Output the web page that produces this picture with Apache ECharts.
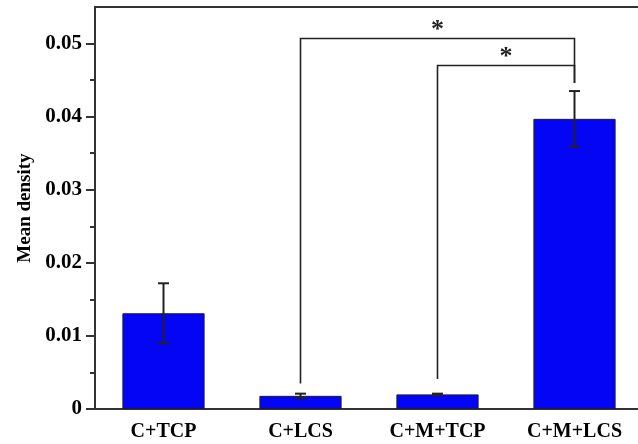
<!DOCTYPE html>
<html>
<head>
<meta charset="utf-8">
<script src="https://cdn.jsdelivr.net/npm/echarts@6/dist/echarts.min.js"></script>
<style>
  html, body { margin: 0; padding: 0; background: #fff; }
  #chart { width: 638px; height: 444px; }
</style>
</head>
<body>
<div id="chart"></div>
<script>
// Groups and their mean density with standard error
const categories = ['C+TCP', 'C+LCS', 'C+M+TCP', 'C+M+LCS'];
const means = [0.0131, 0.0018, 0.0020, 0.0397];
const errors = [0.0041, 0.0003, 0.0001, 0.0038];

// Axis ticks
const majorTicks = [0, 0.01, 0.02, 0.03, 0.04, 0.05];
const minorTicks = [0.005, 0.015, 0.025, 0.035, 0.045];

// Significance brackets: from group, to group, bar height, left leg bottom, right leg bottom, mark
const bracketFrom = [1, 2];
const bracketTo = [3, 3];
const bracketLevel = [0.0507, 0.0470];
const bracketLeftEnd = [0.0035, 0.0041];
const bracketRightEnd = [0.0446, 0.0446];
const bracketMark = ['*', '*'];

const FONT = "'Liberation Serif', 'Times New Roman', serif";
const INK = '#222';

const chart = echarts.init(document.getElementById('chart'), null, { renderer: 'canvas' });

const errorData = categories.map((c, i) => [i, means[i] - errors[i], means[i] + errors[i]]);
const bracketData = bracketFrom.map((f, i) => [f, bracketTo[i], bracketLevel[i], bracketLeftEnd[i], bracketRightEnd[i], i]);

chart.setOption({
  animation: false,
  grid: {
    left: 95, top: 7, width: 548, height: 402,
    outerBoundsMode: 'none',
    containLabel: false,
    show: true, borderColor: '#333', borderWidth: 2, backgroundColor: 'transparent'
  },
  xAxis: {
    type: 'category',
    data: categories,
    axisLine: { lineStyle: { color: '#333', width: 2 } },
    axisTick: { show: false },
    axisLabel: { color: '#000', fontFamily: FONT, fontWeight: 'bold', fontSize: 20, margin: 13 }
  },
  yAxis: [{
    type: 'value',
    min: 0, max: 0.055,
    name: 'Mean density',
    nameLocation: 'middle',
    nameGap: 58,
    nameTextStyle: { color: '#000', fontFamily: FONT, fontWeight: 'bold', fontSize: 19 },
    axisLine: { show: true, lineStyle: { color: '#333', width: 2 } },
    axisTick: { show: true, inside: false, length: 9, customValues: majorTicks, lineStyle: { color: '#333', width: 2 } },
    axisLabel: {
      customValues: majorTicks,
      color: '#000', fontFamily: FONT, fontWeight: 'bold', fontSize: 21, margin: 13,
      formatter: v => (v === 0 ? '0' : String(+v.toFixed(3)))
    },
    splitLine: { show: false }
  }, {
    type: 'value',
    position: 'left',
    min: 0, max: 0.055,
    axisLine: { show: false },
    axisTick: { show: true, inside: false, length: 5, customValues: minorTicks, lineStyle: { color: '#333', width: 2 } },
    axisLabel: { show: false },
    splitLine: { show: false }
  }],
  series: [{
    type: 'bar',
    data: means,
    barWidth: '60%',
    itemStyle: { color: '#0505f5', borderColor: '#1a1a40', borderWidth: 1 }
  }, {
    type: 'custom',
    data: errorData,
    z: 5,
    renderItem: function (params, api) {
      const i = api.value(0);
      const lo = api.coord([i, api.value(1)]);
      const hi = api.coord([i, api.value(2)]);
      const cap = 5.5;
      const style = { stroke: INK, lineWidth: 2 };
      return {
        type: 'group',
        children: [
          { type: 'line', shape: { x1: hi[0], y1: hi[1], x2: lo[0], y2: lo[1] }, style },
          { type: 'line', shape: { x1: hi[0] - cap, y1: hi[1], x2: hi[0] + cap, y2: hi[1] }, style },
          { type: 'line', shape: { x1: lo[0] - cap, y1: lo[1], x2: lo[0] + cap, y2: lo[1] }, style }
        ]
      };
    }
  }, {
    type: 'custom',
    data: bracketData,
    z: 6,
    renderItem: function (params, api) {
      const a = api.value(0), b = api.value(1), lvl = api.value(2);
      const p1 = api.coord([a, lvl]);
      const p2 = api.coord([b, lvl]);
      const l = api.coord([a, api.value(3)]);
      const r = api.coord([b, api.value(4)]);
      const style = { stroke: INK, lineWidth: 1.6, fill: null };
      return {
        type: 'group',
        children: [
          { type: 'polyline', shape: { points: [[l[0], l[1]], [p1[0], p1[1]], [p2[0], p2[1]], [r[0], r[1]]] }, style },
          {
            type: 'text',
            x: (p1[0] + p2[0]) / 2, y: p1[1] + 5,
            style: {
              text: bracketMark[api.value(5)], fill: INK,
              font: 'bold 26px ' + FONT, align: 'center', verticalAlign: 'bottom'
            }
          }
        ]
      };
    }
  }]
});
</script>
</body>
</html>
